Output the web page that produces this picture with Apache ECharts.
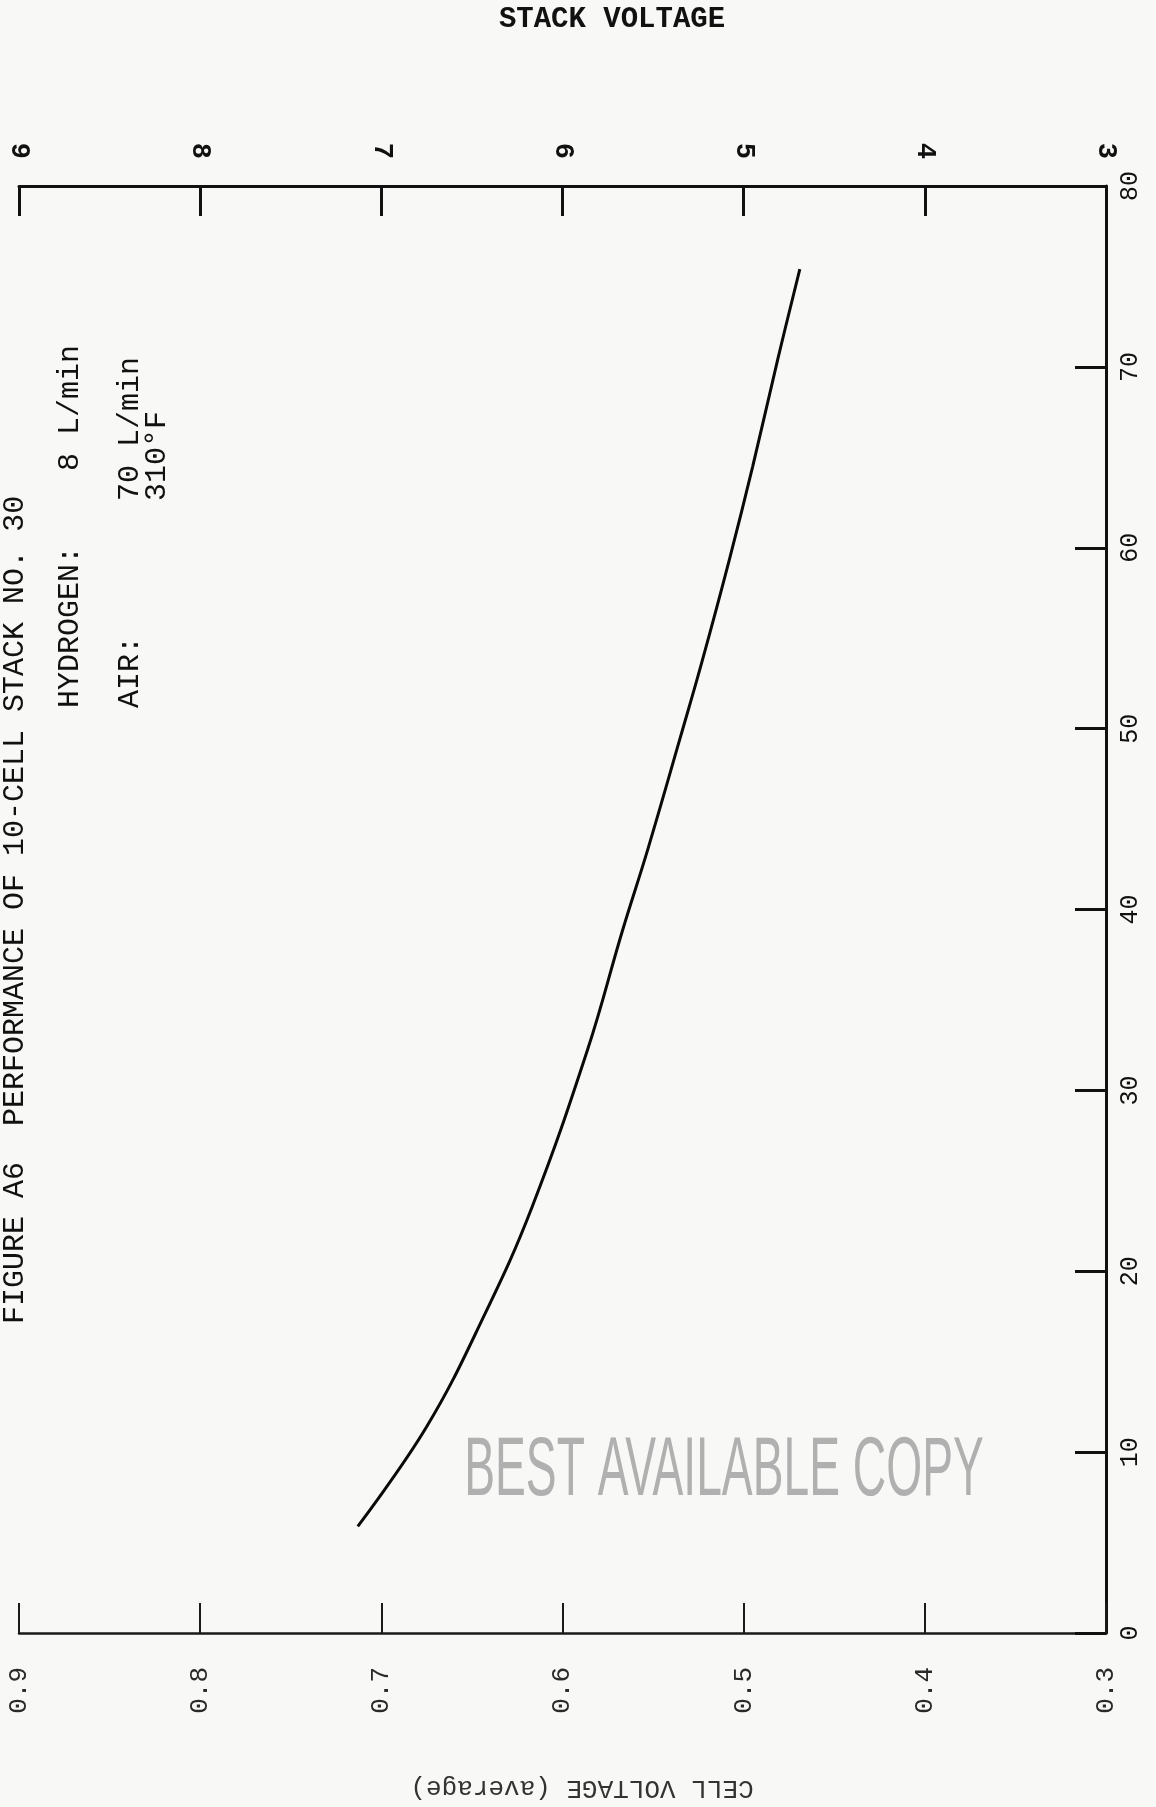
<!DOCTYPE html>
<html>
<head>
<meta charset="utf-8">
<script src="https://cdn.jsdelivr.net/npm/echarts@6/dist/echarts.min.js"></script>
<style>
html,body{margin:0;padding:0;background:#f8f8f6;}
#c{width:1156px;height:1807px;}
</style>
</head>
<body>
<div id="c"></div>
<script>
// Current (0-80) vs average cell voltage
const current = [5.9, 11.4, 17.6, 23.5, 32.3, 38.8, 43.3, 49.5, 53.7, 59.3, 64.5, 70.5, 75.4];
const cellVoltage = [0.713, 0.675, 0.643, 0.617, 0.586, 0.567, 0.553, 0.535, 0.523, 0.508, 0.495, 0.481, 0.469];

const cellVoltageTicks = ['0.3', '0.4', '0.5', '0.6', '0.7', '0.8', '0.9'];
const stackVoltageTicks = ['3', '4', '5', '6', '7', '8', '9'];
const currentTicks = ['0', '10', '20', '30', '40', '50', '60', '70', '80'];

const titleText = 'FIGURE A6  PERFORMANCE OF 10-CELL STACK NO. 30';
const hydrogenLabel = 'HYDROGEN:';
const hydrogenValue = '8 L/min';
const airLabel = 'AIR:';
const airValue = '70 L/min';
const tempValue = '310°F';
const stackAxisTitle = 'STACK VOLTAGE';
const cellAxisTitle = 'CELL VOLTAGE (average)';
const stampText = 'BEST AVAILABLE COPY';

const mono = '"Liberation Mono", "DejaVu Sans Mono", monospace';
const seriesData = current.map((c, i) => [cellVoltage[i], c]);

const chart = echarts.init(document.getElementById('c'), null, {renderer: 'canvas'});

const pick = (arr, min, step) => (v) => {
  const idx = Math.round((v - min) / step);
  return arr[idx] !== undefined ? arr[idx] : '';
};

chart.setOption({
  backgroundColor: '#f8f8f6',
  animation: false,
  grid: {left: 19, right: 50, top: 186, bottom: 174, containLabel: false, outerBoundsMode: 'none'},
  xAxis: [
    {
      type: 'value', position: 'bottom', min: 0.3, max: 0.9, interval: 0.1, inverse: true,
      axisLine: {show: true, lineStyle: {color: '#1a1a1a', width: 2.5}},
      axisTick: {show: true, inside: true, length: 30, lineStyle: {color: '#1a1a1a', width: 2}},
      splitLine: {show: false},
      axisLabel: {
        show: true, rotate: 90, margin: 34, color: '#2a2a2a', fontFamily: mono, fontSize: 26,
        formatter: pick(cellVoltageTicks, 0.3, 0.1)
      }
    },
    {
      type: 'value', position: 'top', min: 3, max: 9, interval: 1, inverse: true,
      axisLine: {show: true, lineStyle: {color: '#111', width: 3}},
      axisTick: {show: true, inside: true, length: 30, lineStyle: {color: '#111', width: 3}},
      splitLine: {show: false},
      axisLabel: {
        show: true, rotate: 90, margin: 27, color: '#111', fontFamily: mono, fontSize: 27, fontWeight: 'bold',
        formatter: pick(stackVoltageTicks, 3, 1)
      }
    }
  ],
  yAxis: [
    {
      type: 'value', position: 'right', min: 0, max: 80, interval: 10,
      axisLine: {show: true, lineStyle: {color: '#111', width: 3}},
      axisTick: {show: true, inside: true, length: 31, lineStyle: {color: '#111', width: 3}},
      splitLine: {show: false},
      axisLabel: {
        show: true, rotate: 90, margin: 12, color: '#111', fontFamily: mono, fontSize: 25,
        formatter: pick(currentTicks, 0, 10)
      }
    }
  ],
  series: [
    {
      type: 'line', xAxisIndex: 0, yAxisIndex: 0, data: seriesData,
      smooth: 0.4, symbol: 'none',
      lineStyle: {color: '#0a0a0a', width: 3}
    }
  ],
  graphic: [
    {type: 'text', x: 612, y: 20, style: {text: stackAxisTitle, font: 'bold 29px ' + mono, fill: '#111', textAlign: 'center', textVerticalAlign: 'middle'}},
    {type: 'text', x: 582, y: 1788, rotation: Math.PI, style: {text: cellAxisTitle, font: '26px ' + mono, fill: '#333', textAlign: 'center', textVerticalAlign: 'middle'}},
    {type: 'text', x: 15, y: 1324, rotation: Math.PI / 2, style: {text: titleText, font: '30px ' + mono, fill: '#111', textAlign: 'left', textVerticalAlign: 'middle'}},
    {type: 'text', x: 70, y: 708, rotation: Math.PI / 2, style: {text: hydrogenLabel, font: '30px ' + mono, fill: '#111', textAlign: 'left', textVerticalAlign: 'middle'}},
    {type: 'text', x: 70, y: 471, rotation: Math.PI / 2, style: {text: hydrogenValue, font: '30px ' + mono, fill: '#111', textAlign: 'left', textVerticalAlign: 'middle'}},
    {type: 'text', x: 130, y: 708, rotation: Math.PI / 2, style: {text: airLabel, font: '30px ' + mono, fill: '#111', textAlign: 'left', textVerticalAlign: 'middle'}},
    {type: 'text', x: 130, y: 501, rotation: Math.PI / 2, style: {text: airValue, font: '30px ' + mono, fill: '#111', textAlign: 'left', textVerticalAlign: 'middle'}},
    {type: 'text', x: 157, y: 501, rotation: Math.PI / 2, style: {text: tempValue, font: '30px ' + mono, fill: '#111', textAlign: 'left', textVerticalAlign: 'middle'}},
    {type: 'text', x: 724, y: 1472, scaleX: 0.55, style: {text: stampText, font: '84px "Liberation Sans", sans-serif', fill: '#b0b0b0', textAlign: 'center', textVerticalAlign: 'middle'}}
  ]
});
</script>
</body>
</html>
